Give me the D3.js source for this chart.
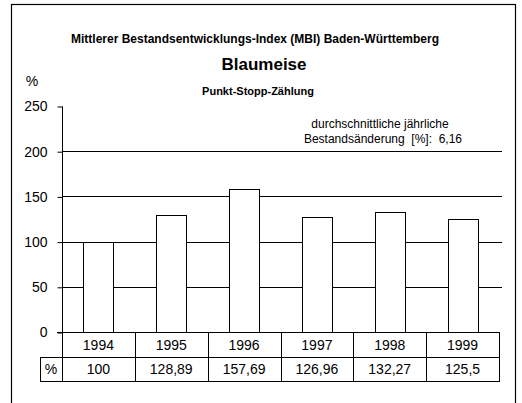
<!DOCTYPE html>
<html>
 <head>
    <title>Blaumeise</title>
    <script src="https://d3js.org/d3.v7.min.js"></script>
    <style>
      body { margin: 0; background: #fff; }
      text { font-family: "Liberation Sans", Arial, sans-serif; fill: #000; }
    </style>
 </head>
 <body>
    <div id="chart"></div>
    <script>
      // data
      var years = ["1994", "1995", "1996", "1997", "1998", "1999"];
      var values = [100, 128.89, 157.69, 126.96, 132.27, 125.5];
      var valueLabels = ["100", "128,89", "157,69", "126,96", "132,27", "125,5"];
      var yTicks = [0, 50, 100, 150, 200, 250];

      var width = 522, height = 403;

      var svg = d3.select("#chart").append("svg")
        .attr("width", width)
        .attr("height", height);

      // outer frame
      svg.append("rect")
        .attr("x", 11.5).attr("y", 4.5)
        .attr("width", 504).attr("height", 420)
        .attr("fill", "none").attr("stroke", "#000").attr("stroke-width", 1.2);

      var x = d3.scaleBand().domain(years).range([62, 499]);
      var y = d3.scaleLinear().domain([0, 250]).range([332, 106]);

      // gridlines
      svg.append("g").selectAll("line")
        .data([50, 100, 150, 200])
        .enter().append("line")
        .attr("x1", 62).attr("x2", 502)
        .attr("y1", function (d) { return Math.round(y(d)) + 0.5; })
        .attr("y2", function (d) { return Math.round(y(d)) + 0.5; })
        .attr("stroke", "#000");

      // bars
      svg.append("g").selectAll("rect")
        .data(values)
        .enter().append("rect")
        .attr("x", function (d, i) { return Math.round(x(years[i]) + x.bandwidth() / 2 - 15) + 0.5; })
        .attr("width", 30)
        .attr("y", function (d) { return Math.round(y(d)) + 0.5; })
        .attr("height", function (d) { return Math.round(y(0)) - Math.round(y(d)); })
        .attr("fill", "#fff")
        .attr("stroke", "#000");

      // y axis
      var yAxis = d3.axisLeft(y).tickValues(yTicks).tickSize(5).tickPadding(10);
      var gy = svg.append("g").attr("transform", "translate(62.5,0.5)").call(yAxis);
      gy.select(".domain").remove();
      gy.append("line").attr("x1", 0).attr("x2", 0).attr("y1", y(250)).attr("y2", y(0)).attr("stroke", "#000");
      gy.selectAll("text").style("font-size", "14px").style("font-family", "Liberation Sans, Arial, sans-serif");
      gy.selectAll(".tick line").attr("stroke", "#000");

      // baseline
      svg.append("line")
        .attr("x1", 57).attr("x2", 499)
        .attr("y1", 332.5).attr("y2", 332.5)
        .attr("stroke", "#000");

      // data table
      var table = svg.append("g");
      table.append("line").attr("x1", 40).attr("x2", 499).attr("y1", 357.5).attr("y2", 357.5).attr("stroke", "#000");
      table.append("line").attr("x1", 40).attr("x2", 499).attr("y1", 381.5).attr("y2", 381.5).attr("stroke", "#000");
      table.append("line").attr("x1", 40.5).attr("x2", 40.5).attr("y1", 357).attr("y2", 382).attr("stroke", "#000");
      table.append("line").attr("x1", 62.5).attr("x2", 62.5).attr("y1", 332).attr("y2", 382).attr("stroke", "#000");
      table.selectAll(".div")
        .data(years)
        .enter().append("line")
        .attr("x1", function (d) { return Math.round(x(d) + x.bandwidth()) + 0.5; })
        .attr("x2", function (d) { return Math.round(x(d) + x.bandwidth()) + 0.5; })
        .attr("y1", 332).attr("y2", 382)
        .attr("stroke", "#000");
      table.selectAll(".yr")
        .data(years)
        .enter().append("text")
        .attr("x", function (d) { return x(d) + x.bandwidth() / 2; })
        .attr("y", 350)
        .attr("text-anchor", "middle")
        .style("font-size", "14px")
        .text(function (d) { return d; });
      table.selectAll(".val")
        .data(valueLabels)
        .enter().append("text")
        .attr("x", function (d, i) { return x(years[i]) + x.bandwidth() / 2; })
        .attr("y", 374)
        .attr("text-anchor", "middle")
        .style("font-size", "14px")
        .text(function (d) { return d; });
      table.append("text").attr("x", 51).attr("y", 374).attr("text-anchor", "middle")
        .style("font-size", "14px").text("%");

      // titles
      svg.append("text").attr("x", 255).attr("y", 43).attr("text-anchor", "middle")
        .style("font-size", "12px").style("font-weight", "bold")
        .text("Mittlerer Bestandsentwicklungs-Index (MBI) Baden-Württemberg");
      svg.append("text").attr("x", 264).attr("y", 70).attr("text-anchor", "middle")
        .style("font-size", "17px").style("font-weight", "bold")
        .text("Blaumeise");
      svg.append("text").attr("x", 258).attr("y", 95).attr("text-anchor", "middle")
        .style("font-size", "11px").style("font-weight", "bold")
        .text("Punkt-Stopp-Zählung");
      svg.append("text").attr("x", 32).attr("y", 86).attr("text-anchor", "middle")
        .style("font-size", "14px").text("%");

      // annotation
      svg.append("text").attr("x", 380).attr("y", 128).attr("text-anchor", "middle")
        .style("font-size", "12px").text("durchschnittliche jährliche");
      svg.append("text").attr("x", 383).attr("y", 143).attr("text-anchor", "middle")
        .style("font-size", "12px").style("white-space", "pre")
        .text("Bestandsänderung  [%]:  6,16");
    </script>
 </body>
</html>
